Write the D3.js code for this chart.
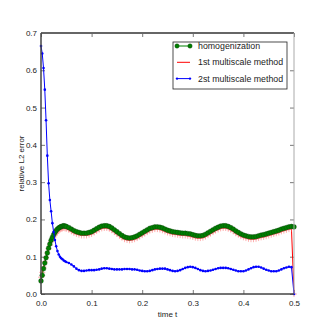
<!DOCTYPE html>
<html>
<head>
<meta charset="utf-8">
<script src="https://cdn.jsdelivr.net/npm/d3@7"></script>
<style>
body { margin: 0; background: #fff; }
text { font-family: "Liberation Sans", Arial, sans-serif; fill: #222; }
</style>
</head>
<body>
<div id="chart-area"></div>
<script>
let width = 327, height = 327;

// time grid, finer step at the start
let times = [0, 0.0025, 0.005, 0.0075, 0.01, 0.0125, 0.015, 0.0175, 0.02, 0.0225,
  0.025, 0.0275, 0.03, 0.0325, 0.035, 0.0375, 0.04, 0.0425, 0.045, 0.0475, 0.05,
  0.055, 0.06, 0.065, 0.07, 0.075, 0.08, 0.085, 0.09, 0.095,
  0.1, 0.105, 0.11, 0.115, 0.12, 0.125, 0.13, 0.135, 0.14, 0.145,
  0.15, 0.155, 0.16, 0.165, 0.17, 0.175, 0.18, 0.185, 0.19, 0.195,
  0.2, 0.205, 0.21, 0.215, 0.22, 0.225, 0.23, 0.235, 0.24, 0.245,
  0.25, 0.255, 0.26, 0.265, 0.27, 0.275, 0.28, 0.285, 0.29, 0.295,
  0.3, 0.305, 0.31, 0.315, 0.32, 0.325, 0.33, 0.335, 0.34, 0.345,
  0.35, 0.355, 0.36, 0.365, 0.37, 0.375, 0.38, 0.385, 0.39, 0.395,
  0.4, 0.405, 0.41, 0.415, 0.42, 0.425, 0.43, 0.435, 0.44, 0.445,
  0.45, 0.455, 0.46, 0.465, 0.47, 0.475, 0.48, 0.485, 0.49, 0.495, 0.5];

let homogenization = [0.035, 0.05, 0.068, 0.083, 0.097, 0.11, 0.123, 0.134, 0.144, 0.152,
  0.159, 0.165, 0.17, 0.174, 0.177, 0.179, 0.181, 0.182, 0.183, 0.182, 0.181,
  0.178, 0.174, 0.17, 0.167, 0.165, 0.163, 0.163, 0.163, 0.165,
  0.167, 0.171, 0.175, 0.179, 0.182, 0.183, 0.183, 0.181, 0.177, 0.172,
  0.167, 0.162, 0.157, 0.153, 0.151, 0.15, 0.151, 0.153, 0.156, 0.16,
  0.164, 0.168, 0.172, 0.176, 0.178, 0.18, 0.18, 0.179, 0.177, 0.174,
  0.171, 0.169, 0.167, 0.166, 0.165, 0.164, 0.163, 0.163, 0.162, 0.161,
  0.159, 0.157, 0.156, 0.156, 0.157, 0.16, 0.164, 0.168, 0.172, 0.176,
  0.179, 0.182, 0.183, 0.183, 0.181, 0.178, 0.174, 0.169, 0.165, 0.161,
  0.158, 0.156, 0.154, 0.153, 0.153, 0.154, 0.156, 0.158, 0.159, 0.161,
  0.163, 0.165, 0.167, 0.169, 0.171, 0.174, 0.176, 0.178, 0.18, 0.181, 0.18];

let firstMethod = [0.045, 0.058, 0.072, 0.086, 0.098, 0.11, 0.121, 0.131, 0.14, 0.147,
  0.153, 0.158, 0.163, 0.167, 0.17, 0.173, 0.175, 0.176, 0.177, 0.176, 0.175,
  0.172, 0.168, 0.164, 0.161, 0.159, 0.157, 0.157, 0.157, 0.159,
  0.161, 0.165, 0.169, 0.173, 0.176, 0.177, 0.177, 0.175, 0.171, 0.166,
  0.161, 0.156, 0.151, 0.147, 0.145, 0.144, 0.145, 0.147, 0.15, 0.154,
  0.158, 0.162, 0.166, 0.17, 0.172, 0.174, 0.174, 0.173, 0.171, 0.168,
  0.165, 0.163, 0.161, 0.16, 0.159, 0.158, 0.157, 0.157, 0.156, 0.155,
  0.153, 0.151, 0.15, 0.15, 0.151, 0.154, 0.158, 0.162, 0.166, 0.17,
  0.173, 0.176, 0.177, 0.177, 0.175, 0.172, 0.168, 0.163, 0.159, 0.155,
  0.152, 0.15, 0.148, 0.147, 0.147, 0.148, 0.15, 0.152, 0.153, 0.155,
  0.157, 0.159, 0.161, 0.163, 0.165, 0.168, 0.17, 0.172, 0.174, 0.175, 0.0];

let secondMethod = [0.665, 0.645, 0.606, 0.548, 0.466, 0.371, 0.297, 0.252, 0.222, 0.19,
  0.166, 0.145, 0.128, 0.115, 0.106, 0.1, 0.096, 0.093, 0.09, 0.088, 0.086,
  0.083, 0.079, 0.074, 0.068, 0.064, 0.062, 0.062, 0.063, 0.064,
  0.064, 0.064, 0.065, 0.066, 0.068, 0.069, 0.069, 0.068, 0.067, 0.066,
  0.066, 0.066, 0.066, 0.067, 0.067, 0.067, 0.066, 0.066, 0.065, 0.063,
  0.062, 0.061, 0.061, 0.062, 0.064, 0.066, 0.067, 0.068, 0.068, 0.068,
  0.066, 0.064, 0.062, 0.061, 0.062, 0.064, 0.067, 0.07, 0.072, 0.073,
  0.072, 0.07, 0.067, 0.064, 0.062, 0.061, 0.062, 0.063, 0.065, 0.067,
  0.069, 0.07, 0.07, 0.07, 0.069, 0.067, 0.065, 0.063, 0.061, 0.061,
  0.061, 0.063, 0.066, 0.069, 0.072, 0.073, 0.073, 0.071, 0.068, 0.065,
  0.063, 0.061, 0.061, 0.061, 0.063, 0.066, 0.069, 0.071, 0.073, 0.072, 0.0];

let xTicks = [0, 0.1, 0.2, 0.3, 0.4, 0.5];
let yTicks = [0, 0.1, 0.2, 0.3, 0.4, 0.5, 0.6, 0.7];
let legendLabels = ["homogenization", "1st multiscale method", "2st multiscale method"];

let mLeft = 41, mRight = 294, mTop = 33, mBottom = 294;

let svg = d3.select("#chart-area")
    .append("svg")
    .attr("width", width)
    .attr("height", height);

let x = d3.scaleLinear().domain([0, 0.5]).range([mLeft, mRight]);
let y = d3.scaleLinear().domain([0, 0.7]).range([mBottom, mTop]);

//ticks, inward on all four sides
svg.append("g")
    .attr("transform", "translate(0," + mBottom + ")")
    .call(d3.axisBottom(x).tickValues(xTicks).tickSize(-4).tickPadding(6).tickFormat(d3.format(".1f")))
    .call(g => g.select(".domain").remove());
svg.append("g")
    .attr("transform", "translate(0," + mTop + ")")
    .call(d3.axisTop(x).tickValues(xTicks).tickSize(-4).tickFormat(""))
    .call(g => g.select(".domain").remove());
svg.append("g")
    .attr("transform", "translate(" + mLeft + ",0)")
    .call(d3.axisLeft(y).tickValues(yTicks).tickSize(-4).tickPadding(4).tickFormat(d3.format(".1f")))
    .call(g => g.select(".domain").remove());
svg.append("g")
    .attr("transform", "translate(" + mRight + ",0)")
    .call(d3.axisRight(y).tickValues(yTicks).tickSize(-4).tickFormat(""))
    .call(g => g.select(".domain").remove());

svg.selectAll(".tick line").attr("stroke", "#555").attr("stroke-width", 0.8);
svg.selectAll(".tick text").style("font-size", "8px").attr("fill", "#222");

//lines
let line = d3.line().x((d, i) => x(times[i])).y(d => y(d));

let plot = svg.append("g");

plot.append("path")
    .attr("d", line(firstMethod))
    .attr("fill", "none")
    .attr("stroke", "#ff0000")
    .attr("stroke-width", 1);
plot.selectAll(".plus")
    .data(firstMethod)
    .enter()
    .append("path")
    .attr("d", (d, i) => {
        let cx = x(times[i]), cy = y(d);
        return "M" + (cx - 3) + "," + cy + "H" + (cx + 3) + "M" + cx + "," + (cy - 3) + "V" + (cy + 3);
    })
    .attr("stroke", "#ff7070")
    .attr("stroke-opacity", 0.7)
    .attr("stroke-width", 0.8);

plot.append("path")
    .attr("d", line(homogenization.slice(0, -1)))
    .attr("fill", "none")
    .attr("stroke", "#008000")
    .attr("stroke-width", 1);
plot.selectAll(".dotH")
    .data(homogenization)
    .enter()
    .append("circle")
    .attr("cx", (d, i) => x(times[i]))
    .attr("cy", d => y(d))
    .attr("r", 2.4)
    .attr("fill", "#008000")
    .attr("stroke", "#0a3a0a")
    .attr("stroke-width", 0.4);

plot.append("path")
    .attr("d", line(secondMethod))
    .attr("fill", "none")
    .attr("stroke", "#0000ff")
    .attr("stroke-width", 1);
plot.selectAll(".dotB")
    .data(secondMethod)
    .enter()
    .append("circle")
    .attr("cx", (d, i) => x(times[i]))
    .attr("cy", d => y(d))
    .attr("r", 1.3)
    .attr("fill", "#0000ff");

//frame
svg.append("line").attr("x1", mLeft).attr("x2", mRight).attr("y1", mTop).attr("y2", mTop)
    .attr("stroke", "#666").attr("stroke-width", 2);
svg.append("line").attr("x1", mRight).attr("x2", mRight).attr("y1", mTop).attr("y2", mBottom)
    .attr("stroke", "#aaa").attr("stroke-width", 1);
svg.append("line").attr("x1", mLeft).attr("x2", mLeft).attr("y1", mTop).attr("y2", mBottom)
    .attr("stroke", "#444").attr("stroke-width", 1.5);
svg.append("line").attr("x1", mLeft).attr("x2", mRight).attr("y1", mBottom).attr("y2", mBottom)
    .attr("stroke", "#444").attr("stroke-width", 1.5);

//axis labels
svg.append("text")
    .attr("x", (mLeft + mRight) / 2)
    .attr("y", 317)
    .attr("text-anchor", "middle")
    .attr("fill", "#222")
    .style("fill", "#222")
    .style("font-size", "8px")
    .text("time t");
svg.append("text")
    .attr("transform", "translate(24," + ((mTop + mBottom) / 2) + ") rotate(-90)")
    .attr("text-anchor", "middle")
    .style("fill", "#222")
    .style("font-size", "8px")
    .text("relative L2 error");

//legend
let legend = svg.append("g").attr("transform", "translate(173,42)");
legend.append("rect")
    .attr("width", 114)
    .attr("height", 47)
    .attr("fill", "#fff")
    .attr("stroke", "#222")
    .attr("stroke-width", 0.8);

let legColors = ["#008000", "#ff0000", "#0000ff"];
legendLabels.forEach(function(lab, i){
    let ly = 4 + i * 16.3;
    legend.append("line")
        .attr("x1", 4).attr("x2", 17).attr("y1", ly).attr("y2", ly)
        .attr("stroke", legColors[i]).attr("stroke-width", 1);
    if (i == 0) {
        [4, 17].forEach(function(px){
            legend.append("circle").attr("cx", px).attr("cy", ly).attr("r", 2.2)
                .attr("fill", "#008000").attr("stroke", "#0a3a0a").attr("stroke-width", 0.4);
        });
    }
    if (i == 2) {
        [4, 17].forEach(function(px){
            legend.append("circle").attr("cx", px).attr("cy", ly).attr("r", 1.2)
                .attr("fill", "#0000ff");
        });
    }
    legend.append("text")
        .attr("x", 25)
        .attr("y", ly + 3)
        .style("font-size", "8.8px")
        .text(lab);
});
</script>
</body>
</html>
